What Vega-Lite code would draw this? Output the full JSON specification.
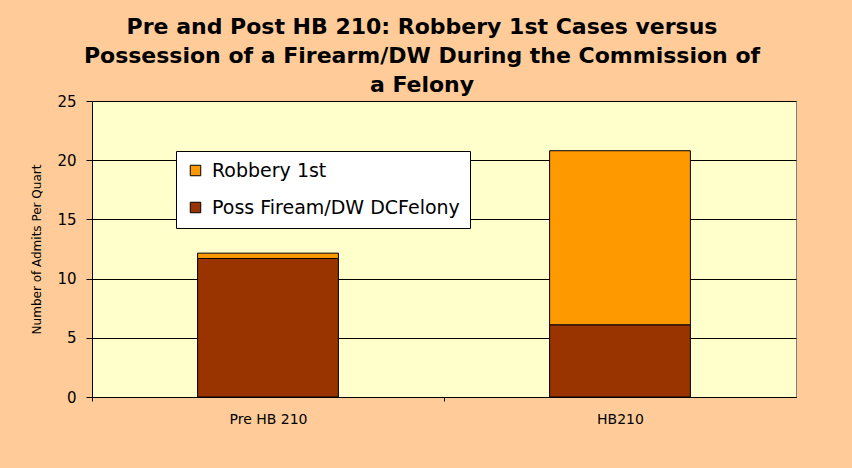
{
  "$schema": "https://vega.github.io/schema/vega-lite/v6.json",
  "autosize": "none",
  "width": 704,
  "height": 296,
  "padding": {"left": 92, "top": 101, "right": 56, "bottom": 71},
  "background": "#FFCC99",
  "config": {
    "font": "DejaVu Sans",
    "view": {"fill": "#FFFFCC", "stroke": "#808080", "strokeWidth": 1}
  },
  "title": {
    "text": ["Pre and Post HB 210: Robbery 1st Cases versus", "Possession of a Firearm/DW During the Commission of", "a Felony"],
    "font": "DejaVu Sans",
    "fontSize": 22,
    "fontWeight": "bold",
    "color": "#000000",
    "lineHeight": 29,
    "anchor": "middle",
    "dx": -22,
    "dy": 11,
    "offset": 8
  },
  "data": {
    "values": [
      {"period": "Pre HB 210", "offense": "Poss Fiream/DW DCFelony", "admits": 11.7, "ord": 0},
      {"period": "Pre HB 210", "offense": "Robbery 1st", "admits": 0.45, "ord": 1},
      {"period": "HB210", "offense": "Poss Fiream/DW DCFelony", "admits": 6.1, "ord": 0},
      {"period": "HB210", "offense": "Robbery 1st", "admits": 14.7, "ord": 1}
    ]
  },
  "mark": {"type": "bar", "stroke": "#000000", "strokeWidth": 1},
  "encoding": {
    "x": {
      "field": "period",
      "type": "nominal",
      "sort": ["Pre HB 210", "HB210"],
      "scale": {"paddingInner": 0.6, "paddingOuter": 0.3},
      "axis": {
        "title": null,
        "labelAngle": 0,
        "labelFontSize": 14,
        "labelColor": "#000000",
        "labelPadding": 11,
        "domainColor": "#000000",
        "tickColor": "#000000",
        "tickSize": 4,
        "tickOffset": -176,
        "labelOffset": 176,
        "grid": false
      }
    },
    "y": {
      "field": "admits",
      "type": "quantitative",
      "stack": "zero",
      "scale": {"domain": [0, 25]},
      "axis": {
        "title": "Number of Admits Per Quart",
        "titleFontSize": 12,
        "titleFontWeight": "normal",
        "titleColor": "#000000",
        "titlePadding": 13,
        "values": [0, 5, 10, 15, 20, 25],
        "labelFontSize": 15,
        "labelColor": "#000000",
        "labelPadding": 10,
        "domainColor": "#000000",
        "tickColor": "#000000",
        "tickSize": 6,
        "grid": true,
        "gridColor": "#000000",
        "gridOpacity": 1,
        "gridWidth": 1
      }
    },
    "color": {
      "field": "offense",
      "type": "nominal",
      "scale": {"domain": ["Robbery 1st", "Poss Fiream/DW DCFelony"], "range": ["#FF9900", "#993300"]},
      "legend": {
        "title": null,
        "orient": "none",
        "legendX": 84,
        "legendY": 50,
        "fillColor": "#FFFFFF",
        "strokeColor": "#000000",
        "padding": 10,
        "symbolType": "square",
        "symbolSize": 110,
        "symbolStrokeColor": "#000000",
        "symbolStrokeWidth": 1,
        "labelFontSize": 19,
        "labelColor": "#000000",
        "labelLimit": 400,
        "labelOffset": 7,
        "rowPadding": 17,
        "symbolOffset": 0
      }
    },
    "order": {"field": "ord", "type": "quantitative"}
  }
}
